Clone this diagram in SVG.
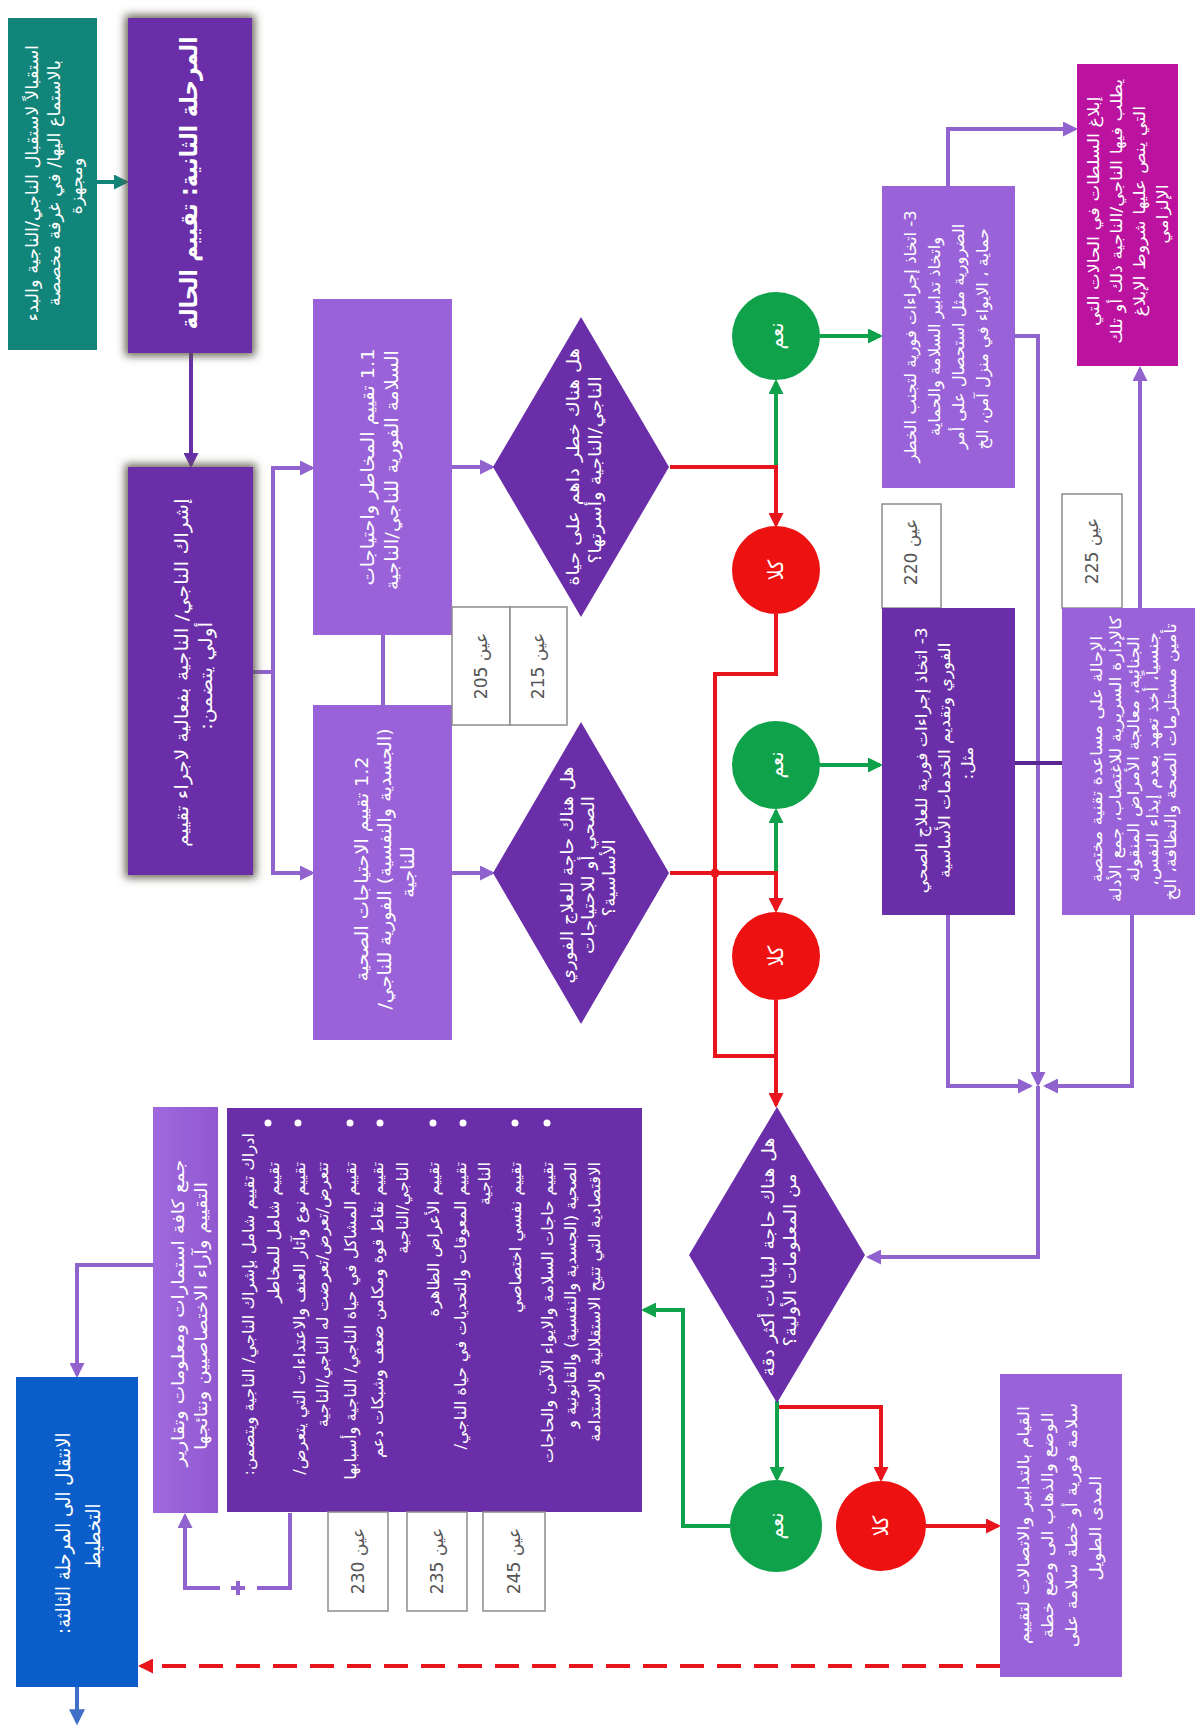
<svg xmlns="http://www.w3.org/2000/svg" width="1195" height="1726" viewBox="0 0 1195 1726">
  <defs>
    <style>
      text, tspan { font-family: "DejaVu Sans Condensed", "DejaVu Sans", sans-serif; dominant-baseline: central; }
      .w { fill: #ffffff; text-anchor: middle; direction: rtl; }
      .ws { fill: #ffffff; text-anchor: start; direction: rtl; font-size: 15.5px; }
      .ref { fill: #555555; text-anchor: middle; direction: rtl; font-size: 17px; }
      .b { font-weight: bold; }
      .dark { fill: #6a2ea8; }
      .light { fill: #9a62d8; }
      .cell { fill: #ffffff; stroke: #8c8c8c; stroke-width: 1.5; }
      .c { fill: none; stroke-width: 4; stroke-linejoin: miter; }
      .cp { stroke: #9163cf; }
      .cr { stroke: #e8161c; }
      .cg { stroke: #10a24a; }
      .yes { fill: #10a24a; }
      .no { fill: #ee1111; }
    </style>
    <marker id="ap" viewBox="0 0 10 10" refX="8" refY="5" markerWidth="15" markerHeight="15" markerUnits="userSpaceOnUse" orient="auto"><path d="M0,0 L10,5 L0,10 z" fill="#9163cf"/></marker>
    <marker id="ad" viewBox="0 0 10 10" refX="8" refY="5" markerWidth="15" markerHeight="15" markerUnits="userSpaceOnUse" orient="auto"><path d="M0,0 L10,5 L0,10 z" fill="#6630a8"/></marker>
    <marker id="ar" viewBox="0 0 10 10" refX="8" refY="5" markerWidth="15" markerHeight="15" markerUnits="userSpaceOnUse" orient="auto"><path d="M0,0 L10,5 L0,10 z" fill="#e8161c"/></marker>
    <marker id="ag" viewBox="0 0 10 10" refX="8" refY="5" markerWidth="15" markerHeight="15" markerUnits="userSpaceOnUse" orient="auto"><path d="M0,0 L10,5 L0,10 z" fill="#10a24a"/></marker>
    <marker id="at" viewBox="0 0 10 10" refX="8" refY="5" markerWidth="15" markerHeight="15" markerUnits="userSpaceOnUse" orient="auto"><path d="M0,0 L10,5 L0,10 z" fill="#12857b"/></marker>
    <marker id="ab" viewBox="0 0 10 10" refX="8" refY="5" markerWidth="16" markerHeight="16" markerUnits="userSpaceOnUse" orient="auto"><path d="M0,0 L10,5 L0,10 z" fill="#3f6fc6"/></marker>
    <filter id="halo" x="-20%" y="-20%" width="140%" height="140%">
      <feMorphology in="SourceAlpha" operator="dilate" radius="3" result="d"/>
      <feGaussianBlur in="d" stdDeviation="4" result="b"/>
      <feFlood flood-color="#5a5446" flood-opacity="0.9"/>
      <feComposite in2="b" operator="in" result="s"/>
      <feMerge><feMergeNode in="s"/><feMergeNode in="SourceGraphic"/></feMerge>
    </filter>
    <linearGradient id="gLight" x1="0" y1="0" x2="1" y2="0">
      <stop offset="0" stop-color="#a06ade"/>
      <stop offset="1" stop-color="#9157cf"/>
    </linearGradient>
  </defs>

  <rect width="1195" height="1726" fill="#ffffff"/>

  <!-- connectors -->
  <g id="connectors">
    <path class="c" stroke="#12857b" d="M97,182 H126" marker-end="url(#at)"/>
    <path class="c" stroke="#6630a8" d="M191,353 V465" marker-end="url(#ad)"/>
    <path class="c cp" d="M253,672 H273"/>
    <path class="c cp" d="M273,672 V468 H312" marker-end="url(#ap)"/>
    <path class="c cp" d="M273,672 V873 H312" marker-end="url(#ap)"/>
    <path class="c cp" stroke-width="6" d="M383,635 V705"/>
    <path class="c cp" d="M452,467 H492" marker-end="url(#ap)"/>
    <path class="c cp" d="M452,873 H492" marker-end="url(#ap)"/>

    <!-- red / green decision branches -->
    <path class="c cg" d="M776,467 V382" marker-end="url(#ag)"/>
    <path class="c cr" d="M670,467 H776 V525" marker-end="url(#ar)"/>
    <path class="c cr" d="M776,614 V674 H715 V1056 H776"/>
    <path class="c cg" d="M776,873 V811" marker-end="url(#ag)"/>
    <path class="c cr" d="M670,873 H776 V910" marker-end="url(#ar)"/>
    <circle cx="715" cy="873" r="4.5" fill="#e8161c"/>
    <path class="c cr" d="M776,1000 V1105" marker-end="url(#ar)"/>

    <path class="c cr" d="M777,1407 H881 V1479" marker-end="url(#ar)"/>
    <path class="c cg" d="M777,1401 V1479" marker-end="url(#ag)"/>
    <path class="c cg" d="M730,1526 H683 V1310 H644" marker-end="url(#ag)"/>
    <path class="c cr" d="M926,1526 H998" marker-end="url(#ar)"/>
    <path class="c cr" stroke-width="3" stroke-dasharray="24 13" d="M1000,1666 H146"/>
    <path class="c cr" stroke-width="3" d="M150,1666 H141" marker-end="url(#ar)"/>

    <path class="c cg" d="M820,336 H880" marker-end="url(#ag)"/>
    <path class="c cg" d="M820,765 H880" marker-end="url(#ag)"/>

    <!-- right side purple routing -->
    <path class="c cp" d="M948,186 V129 H1075" marker-end="url(#ap)"/>
    <path class="c cp" d="M1140,608 V369" marker-end="url(#ap)"/>
    <path class="c cp" d="M1015,336 H1038 V1084" marker-end="url(#ap)"/>
    <path class="c cp" d="M948,915 V1086 H1030" marker-end="url(#ap)"/>
    <path class="c cp" d="M1132,915 V1086 H1046" marker-end="url(#ap)"/>
    <path class="c cp" d="M1038,1086 V1257 H869" marker-end="url(#ap)"/>
    <path class="c" stroke="#5a2590" stroke-width="7" d="M1015,763 H1062"/>

    <!-- bottom left -->
    <path class="c cp" d="M153,1265 H77 V1375" marker-end="url(#ap)"/>
    <path class="c" stroke="#3f6fc6" stroke-width="4" d="M77,1687 V1722" marker-end="url(#ab)"/>
    <path class="c cp" d="M290,1513 V1588 H257"/>
    <path class="c cp" d="M220,1588 H185 V1516" marker-end="url(#ap)"/>
    <path class="c cp" stroke-width="2.5" d="M231,1588 H245 M238,1581 V1595"/>
  </g>

  <!-- intake -->
  <g id="intake">
    <rect x="8" y="18" width="89" height="332" fill="#12857b"/>
    <text class="w" font-size="17" transform="translate(54,186) rotate(-90) scale(1.16,1)">
      <tspan x="0" y="-22">استقبالاً لاستقبال الناجي/الناجية والبدء</tspan>
      <tspan x="0" y="0">بالاستماع اليها/ في غرفة مخصصة</tspan>
      <tspan x="0" y="22">ومجهزة</tspan>
    </text>
  </g>

  <!-- phase heading -->
  <g id="phase2">
    <rect x="128" y="18" width="124" height="335" class="dark" filter="url(#halo)"/>
    <text class="w b" font-size="24" transform="translate(189,183) rotate(-90)">المرحلة الثانية: تقييم الحالة</text>
  </g>

  <g id="engage">
    <rect x="128" y="467" width="125" height="408" class="dark" filter="url(#halo)"/>
    <text class="w" font-size="18" transform="translate(194,676) rotate(-90) scale(1.25,1)">
      <tspan x="0" y="-12">إشراك الناجي/ الناجية بفعالية لاجراء تقييم</tspan>
      <tspan x="0" y="12">أولي يتضمن:</tspan>
    </text>
  </g>

  <g id="assess-safety">
    <rect x="313" y="299" width="139" height="336" class="light"/>
    <text class="w" font-size="18" transform="translate(380,470) rotate(-90) scale(1.2,1)">
      <tspan x="0" y="-12">1.1 تقييم المخاطر واحتياجات</tspan>
      <tspan x="0" y="12">السلامة الفورية للناجي/الناجية</tspan>
    </text>
  </g>

  <g id="assess-health">
    <rect x="313" y="705" width="139" height="335" class="light"/>
    <text class="w" font-size="18" transform="translate(385,872) rotate(-90) scale(1.18,1)">
      <tspan x="0" y="-23">1.2 تقييم الاحتياجات الصحية</tspan>
      <tspan x="0" y="0">(الجسدية والنفسية) الفورية للناجي/</tspan>
      <tspan x="0" y="23">للناجية</tspan>
    </text>
  </g>

  <g id="ref-205-215">
    <rect x="452" y="607" width="58" height="118" class="cell"/>
    <rect x="510" y="607" width="57" height="118" class="cell"/>
    <text class="ref" transform="translate(481,666) rotate(-90) scale(1.12,1)">عين 205</text>
    <text class="ref" transform="translate(538,666) rotate(-90) scale(1.12,1)">عين 215</text>
  </g>

  <g id="q-danger">
    <polygon points="581,317 669,467 581,617 493,467" class="dark"/>
    <text class="w" font-size="17" transform="translate(584,470) rotate(-90) scale(1.27,1)">
      <tspan x="0" y="-11">هل هناك خطر داهم على حياة</tspan>
      <tspan x="0" y="11">الناجي/الناجية وأسرتها؟</tspan>
    </text>
  </g>

  <g id="q-health">
    <polygon points="581,722 669,873 581,1024 493,873" class="dark"/>
    <text class="w" font-size="17" transform="translate(588,878) rotate(-90) scale(1.2,1)">
      <tspan x="0" y="-21">هل هناك حاجة للعلاج الفوري</tspan>
      <tspan x="0" y="0">الصحي أو للاحتياجات</tspan>
      <tspan x="0" y="21">الأساسية؟</tspan>
    </text>
  </g>

  <g id="yes-1"><circle cx="776" cy="336" r="44" class="yes"/><text class="w" font-size="21" transform="translate(776,336) rotate(-90)">نعم</text></g>
  <g id="no-1"><circle cx="776" cy="570" r="44" class="no"/><text class="w" font-size="21" transform="translate(776,570) rotate(-90)">كلا</text></g>
  <g id="yes-2"><circle cx="776" cy="765" r="44" class="yes"/><text class="w" font-size="21" transform="translate(776,765) rotate(-90)">نعم</text></g>
  <g id="no-2"><circle cx="776" cy="956" r="44" class="no"/><text class="w" font-size="21" transform="translate(776,956) rotate(-90)">كلا</text></g>

  <g id="act-danger">
    <rect x="882" y="186" width="133" height="302" class="light"/>
    <text class="w" font-size="16" transform="translate(946,339) rotate(-90) scale(1.14,1)">
      <tspan x="0" y="-36">3- اتخاذ إجراءات فورية لتجنب الخطر</tspan>
      <tspan x="0" y="-12">واتخاذ تدابير السلامة والحماية</tspan>
      <tspan x="0" y="12">الضرورية مثل استحصال على أمر</tspan>
      <tspan x="0" y="36">حماية ، الايواء في منزل آمن، الخ</tspan>
    </text>
  </g>

  <g id="report">
    <rect x="1077" y="64" width="101" height="302" fill="#bb139f"/>
    <text class="w" font-size="15.5" transform="translate(1128,214) rotate(-90) scale(1.27,1)">
      <tspan x="0" y="-34.5">إبلاغ السلطات في الحالات التي</tspan>
      <tspan x="0" y="-11.5">يطلب فيها الناجي/الناجية ذلك أو تلك</tspan>
      <tspan x="0" y="11.5">التي ينص عليها شروط الإبلاغ</tspan>
      <tspan x="0" y="34.5">الإلزامي</tspan>
    </text>
  </g>

  <g id="ref-220">
    <rect x="882" y="504" width="59" height="104" class="cell"/>
    <text class="ref" transform="translate(911,552) rotate(-90) scale(1.12,1)">عين 220</text>
  </g>
  <g id="ref-225">
    <rect x="1062" y="494" width="60" height="114" class="cell"/>
    <text class="ref" transform="translate(1092,551) rotate(-90) scale(1.12,1)">عين 225</text>
  </g>

  <g id="act-health">
    <rect x="882" y="608" width="133" height="307" class="dark"/>
    <text class="w" font-size="16" transform="translate(945,763) rotate(-90) scale(1.19,1)">
      <tspan x="0" y="-23">3- اتخاذ إجراءات فورية للعلاج الصحي</tspan>
      <tspan x="0" y="0">الفوري وتقديم الخدمات الأساسية</tspan>
      <tspan x="0" y="23">مثل:</tspan>
    </text>
  </g>

  <g id="referral">
    <rect x="1062" y="608" width="133" height="307" class="light"/>
    <text class="w" font-size="15.5" transform="translate(1133,762) rotate(-90) scale(1.28,1)">
      <tspan x="0" y="-37">الإحالة على مساعدة تقنية مختصة</tspan>
      <tspan x="0" y="-18.5">كالإدارة السريرية للاغتصاب، جمع الأدلة</tspan>
      <tspan x="0" y="0">الجنائية، معالجة الأمراض المنقولة</tspan>
      <tspan x="0" y="18.5">جنسياً، أخذ تعهد بعدم إيذاء النفس،</tspan>
      <tspan x="0" y="37">تأمين مستلزمات الصحة والنظافة، الخ</tspan>
    </text>
  </g>

  <g id="q-more-data">
    <polygon points="777,1107 865,1255 777,1403 689,1255" class="dark"/>
    <text class="w" font-size="17" transform="translate(779,1260) rotate(-90) scale(1.23,1)">
      <tspan x="0" y="-11">هل هناك حاجة لبيانات أكثر دقة</tspan>
      <tspan x="0" y="11">من المعلومات الأولية؟</tspan>
    </text>
  </g>

  <g id="yes-3"><circle cx="776" cy="1526" r="46" class="yes"/><text class="w" font-size="21" transform="translate(776,1526) rotate(-90)">نعم</text></g>
  <g id="no-3"><circle cx="881" cy="1526" r="45" class="no"/><text class="w" font-size="21" transform="translate(881,1526) rotate(-90)">كلا</text></g>

  <g id="safety-plan">
    <rect x="1000" y="1374" width="122" height="303" class="light"/>
    <text class="w" font-size="16" transform="translate(1059,1528) rotate(-90) scale(1.27,1)">
      <tspan x="0" y="-36">القيام بالتدابير والاتصالات لتقييم</tspan>
      <tspan x="0" y="-12">الوضع والذهاب الى وضع خطة</tspan>
      <tspan x="0" y="12">سلامة فورية أو خطة سلامة على</tspan>
      <tspan x="0" y="36">المدى الطويل</tspan>
    </text>
  </g>

  <g id="full-assessment">
    <rect x="227" y="1108" width="415" height="404" class="dark"/>
    <g fill="#ffffff">
      <circle cx="268" cy="1123" r="3.5"/><circle cx="298" cy="1123" r="3.5"/>
      <circle cx="350" cy="1123" r="3.5"/><circle cx="380" cy="1123" r="3.5"/>
      <circle cx="433" cy="1123" r="3.5"/><circle cx="463" cy="1123" r="3.5"/>
      <circle cx="515" cy="1123" r="3.5"/><circle cx="547" cy="1123" r="3.5"/>
    </g>
    <text class="ws" transform="translate(248,1133) rotate(-90) scale(1.17,1)">ادراك تقييم شامل بإشراك الناجي/ الناجية ويتضمن:</text>
    <text class="ws" transform="translate(273,1162) rotate(-90) scale(1.17,1)">تقييم شامل للمخاطر</text>
    <text class="ws" transform="translate(299,1162) rotate(-90) scale(1.17,1)">تقييم نوع وآثار العنف والاعتداءات التي يتعرض/</text>
    <text class="ws" transform="translate(322,1162) rotate(-90) scale(1.17,1)">تتعرض/تعرض/تعرضت له الناجي/الناجية</text>
    <text class="ws" transform="translate(350,1162) rotate(-90) scale(1.17,1)">تقييم المشاكل في حياة الناجي/ الناجية وأسبابها</text>
    <text class="ws" transform="translate(377,1162) rotate(-90) scale(1.17,1)">تقييم نقاط قوة ومكامن ضعف وشبكات دعم</text>
    <text class="ws" transform="translate(402,1162) rotate(-90) scale(1.17,1)">الناجي/الناجية</text>
    <text class="ws" transform="translate(433,1162) rotate(-90) scale(1.17,1)">تقييم الأعراض الظاهرة</text>
    <text class="ws" transform="translate(460,1162) rotate(-90) scale(1.17,1)">تقييم المعوقات والتحديات في حياة الناجي/</text>
    <text class="ws" transform="translate(484,1162) rotate(-90) scale(1.17,1)">الناجية</text>
    <text class="ws" transform="translate(515,1162) rotate(-90) scale(1.17,1)">تقييم نفسي اختصاصي</text>
    <text class="ws" transform="translate(547,1162) rotate(-90) scale(1.17,1)">تقييم حاجات السلامة والايواء الآمن والحاجات</text>
    <text class="ws" transform="translate(570,1162) rotate(-90) scale(1.17,1)">الصحية (الجسدية والنفسية) والقانونية و</text>
    <text class="ws" transform="translate(594,1162) rotate(-90) scale(1.17,1)">الاقتصادية التي تتيح الاستقلالية والاستدامة</text>
  </g>

  <g id="collect">
    <rect x="153" y="1107" width="65" height="406" fill="url(#gLight)"/>
    <text class="w" font-size="17" transform="translate(189,1316) rotate(-90) scale(1.27,1)">
      <tspan x="0" y="-11.5">جمع كافة استمارات ومعلومات وتقارير</tspan>
      <tspan x="0" y="11.5">التقييم وآراء الاختصاصيين ونتائجها</tspan>
    </text>
  </g>

  <g id="ref-230-245">
    <rect x="328" y="1512" width="60" height="99" class="cell"/>
    <rect x="407" y="1512" width="60" height="99" class="cell"/>
    <rect x="483" y="1512" width="62" height="99" class="cell"/>
    <text class="ref" transform="translate(358,1561) rotate(-90) scale(1.12,1)">عين 230</text>
    <text class="ref" transform="translate(437,1561) rotate(-90) scale(1.12,1)">عين 235</text>
    <text class="ref" transform="translate(514,1561) rotate(-90) scale(1.12,1)">عين 245</text>
  </g>

  <g id="phase3">
    <rect x="16" y="1377" width="122" height="310" fill="#0b5ec9"/>
    <text class="w" font-size="20" transform="translate(78,1536) rotate(-90)">
      <tspan x="0" y="-15">الانتقال الى المرحلة الثالثة:</tspan>
      <tspan x="0" y="15">التخطيط</tspan>
    </text>
  </g>
</svg>
